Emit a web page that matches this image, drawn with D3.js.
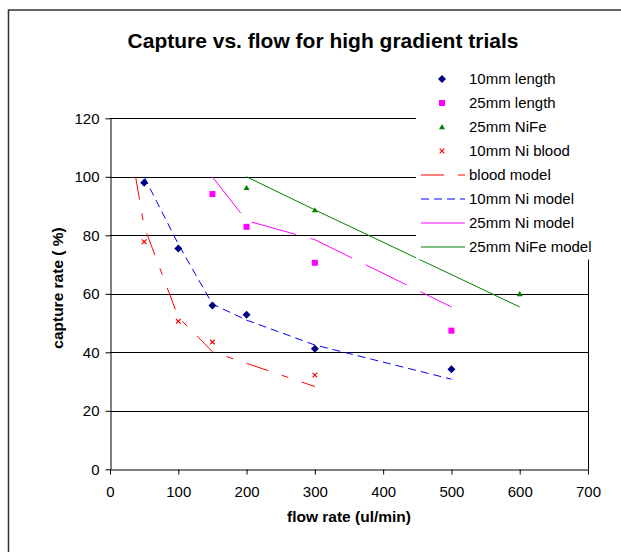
<!DOCTYPE html>
<html>
<head>
<meta charset="utf-8">
<script src="https://cdn.jsdelivr.net/npm/d3@7"></script>
<style>
  body { margin: 0; background: #fff; }
  svg { display: block; font-family: Arial, "Liberation Sans", sans-serif; }
</style>
</head>
<body>
<svg id="chart"></svg>
<script>
// measured points (flow rate ul/min, capture %)
var len10X = [50, 100, 150, 200, 300, 500];
var len10Y = [98, 75.5, 56, 52.8, 41.2, 34.2];
var len25X = [150, 200, 300, 500];
var len25Y = [94.1, 82.9, 70.6, 47.4];
var nife25X = [200, 300, 600];
var nife25Y = [96.2, 88.6, 59.9];
var bloodX = [50, 100, 150, 300];
var bloodY = [77.8, 50.6, 43.5, 32.2];

// model curves
var bloodModelX = [37.5, 50, 100, 150, 300];
var bloodModelY = [100, 83, 52, 40.2, 28.3];
var ni10ModelX = [50, 100, 150, 200, 300, 500];
var ni10ModelY = [100, 77, 56.5, 51, 42.5, 30.8];
var ni25ModelX = [150, 200, 300, 500];
var ni25ModelY = [100, 85, 78.5, 55.5];
var nife25ModelX = [200, 300, 600];
var nife25ModelY = [100, 88.7, 55.5];

var xTicks = [0, 100, 200, 300, 400, 500, 600, 700];
var yTicks = [0, 20, 40, 60, 80, 100, 120];

var legendNames = ["10mm length", "25mm length", "25mm NiFe", "10mm Ni blood",
  "blood model", "10mm Ni model", "25mm Ni model", "25mm NiFe model"];

const W = 621, H = 552;
const svg = d3.select("#chart").attr("width", W).attr("height", H);

const x = d3.scaleLinear().domain([0, 700]).range([110, 588]);
const y = d3.scaleLinear().domain([0, 120]).range([469.3, 118.3]);

// outer chart border (runs off the right/bottom of the picture)
svg.append("rect")
  .attr("x", 8.5).attr("y", 10).attr("width", 800).attr("height", 800)
  .attr("fill", "none").attr("stroke", "#333").attr("stroke-width", 1.5);

// gridlines
svg.append("g").selectAll("line")
  .data(yTicks.filter(d => d > 0))
  .enter().append("line")
  .attr("x1", x(0)).attr("x2", x(700))
  .attr("y1", d => Math.round(y(d)) + 0.5).attr("y2", d => Math.round(y(d)) + 0.5)
  .attr("stroke", "#000").attr("stroke-width", 1);

// right border of plot area
svg.append("line")
  .attr("x1", Math.round(x(700)) + 0.5).attr("x2", Math.round(x(700)) + 0.5)
  .attr("y1", y(0)).attr("y2", y(120))
  .attr("stroke", "#000");

// axes
const xAxis = svg.append("g")
  .attr("transform", "translate(0," + (Math.round(y(0)) + 0.5) + ")")
  .call(d3.axisBottom(x).tickValues(xTicks).tickSize(5).tickSizeOuter(0).tickPadding(12));
const yAxis = svg.append("g")
  .attr("transform", "translate(" + (Math.round(x(0)) + 0.5) + ",0)")
  .call(d3.axisLeft(y).tickValues(yTicks).tickSize(5).tickSizeOuter(0).tickPadding(6));
[xAxis, yAxis].forEach(function (a) {
  a.selectAll("path, line").attr("stroke", "#000");
  a.selectAll("text").attr("fill", "#000").style("font-size", "15px")
    .style("font-family", "Arial, 'Liberation Sans', sans-serif");
});

// model lines
var lineGen = d3.line().x(d => x(d[0])).y(d => y(d[1]));
function zip(a, b) { return a.map((v, i) => [v, b[i]]); }

var models = [
  { pts: zip(bloodModelX, bloodModelY), color: "#ff0000", dash: "23,14,7,14" },
  { pts: zip(ni10ModelX, ni10ModelY), color: "#0000ff", dash: "8,5" },
  { pts: zip(ni25ModelX, ni25ModelY), color: "#ff00ff", dash: "46,15" },
  { pts: zip(nife25ModelX, nife25ModelY), color: "#008000", dash: "none" }
];
models.forEach(function (m) {
  svg.append("path")
    .attr("d", lineGen(m.pts))
    .style("fill", "none")
    .style("stroke", m.color)
    .style("stroke-width", 1)
    .style("stroke-dasharray", m.dash);
});

// markers
var diamond = "M0,-4L4,0L0,4L-4,0Z";
var square = "M-3,-3H3V3H-3Z";
var triangle = "M0,-3L3,2.2L-3,2.2Z";
var cross = "M-2.3,-2.3L2.3,2.3M-2.3,2.3L2.3,-2.3";

var series = [
  { pts: zip(len10X, len10Y), path: diamond, fill: "#000080", stroke: "none" },
  { pts: zip(len25X, len25Y), path: square, fill: "#ff00ff", stroke: "none" },
  { pts: zip(nife25X, nife25Y), path: triangle, fill: "#008000", stroke: "none" },
  { pts: zip(bloodX, bloodY), path: cross, fill: "none", stroke: "#ff0000" }
];
series.forEach(function (s) {
  svg.append("g").selectAll("path")
    .data(s.pts)
    .enter().append("path")
    .attr("transform", d => "translate(" + x(d[0]) + "," + y(d[1]) + ")")
    .attr("d", s.path)
    .attr("fill", s.fill)
    .attr("stroke", s.stroke)
    .attr("stroke-width", 1.2);
});

// legend (white box sits over the plot corner)
const lg = svg.append("g");
lg.append("rect")
  .attr("x", 416).attr("y", 64).attr("width", 200).attr("height", 195.5)
  .attr("fill", "#fff");
legendNames.forEach(function (name, i) {
  var ry = 79 + i * 24;
  if (i < 4) {
    var s = series[i];
    lg.append("path")
      .attr("transform", "translate(442," + ry + ")")
      .attr("d", s.path).attr("fill", s.fill).attr("stroke", s.stroke)
      .attr("stroke-width", 1.2);
  } else {
    var m = models[i - 4];
    lg.append("path")
      .attr("d", "M421," + ry + "H465")
      .style("fill", "none")
      .style("stroke", m.color)
      .style("stroke-width", 1)
      .style("stroke-dasharray", m.dash);
  }
  lg.append("text")
    .attr("x", 469).attr("y", ry + 5)
    .style("font-size", "15px")
    .text(name);
});

// titles
svg.append("text")
  .attr("x", 323).attr("y", 48)
  .attr("text-anchor", "middle")
  .style("font-size", "21px").style("font-weight", "bold")
  .text("Capture vs. flow for high gradient trials");

svg.append("text")
  .attr("x", 349).attr("y", 522)
  .attr("text-anchor", "middle")
  .style("font-size", "15.5px").style("font-weight", "bold")
  .text("flow rate (ul/min)");

svg.append("text")
  .attr("transform", "translate(63,288) rotate(-90)")
  .attr("text-anchor", "middle")
  .style("font-size", "15.5px").style("font-weight", "bold")
  .text("capture rate ( %)");
</script>
</body>
</html>
